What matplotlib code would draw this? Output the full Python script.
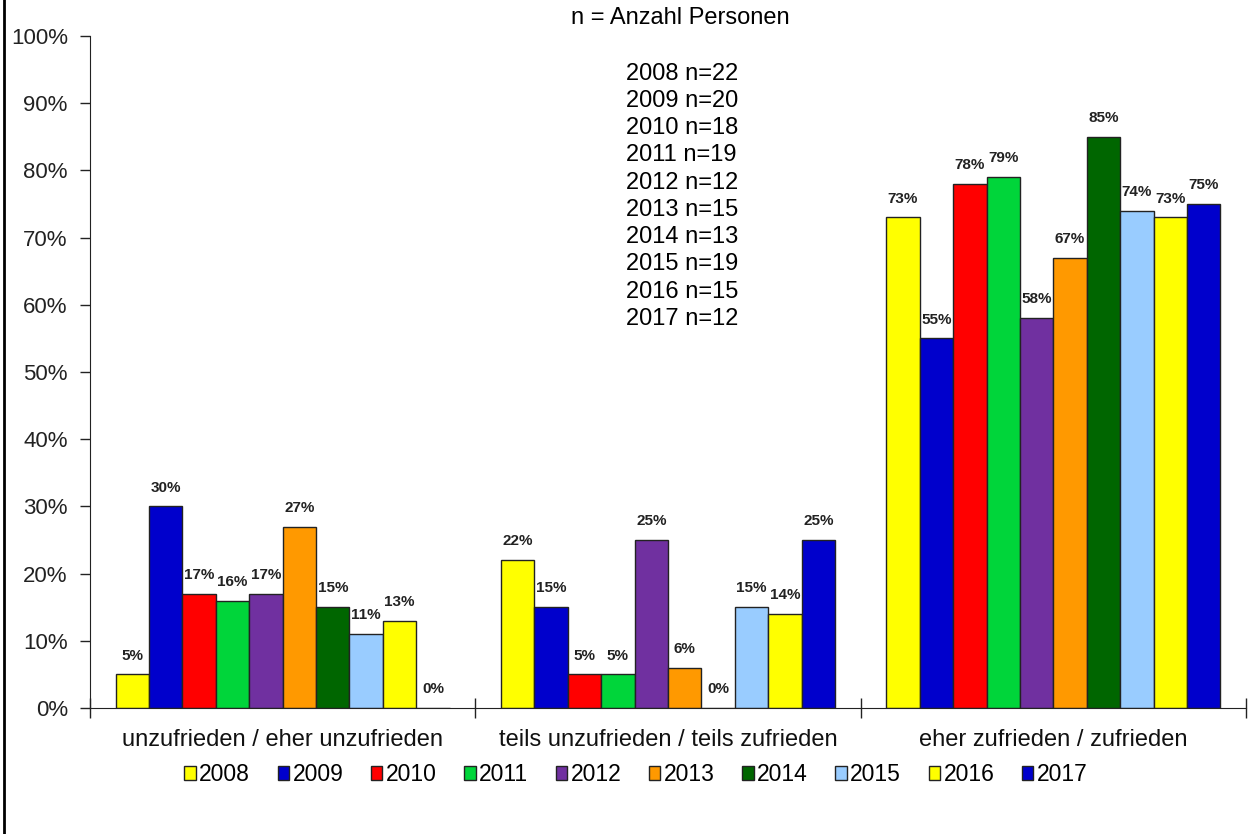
#!/usr/bin/python3

import numpy as np
from matplotlib import pyplot as plt
from matplotlib.lines import Line2D

categories = ["unzufrieden / eher unzufrieden",
              "teils unzufrieden / teils zufrieden",
              "eher zufrieden / zufrieden"]
years = ["2008", "2009", "2010", "2011", "2012", "2013", "2014", "2015", "2016", "2017"]
n_persons = [22, 20, 18, 19, 12, 15, 13, 19, 15, 12]

# percent per year, one value per category
values = {
    "2008": [5, 22, 73],
    "2009": [30, 15, 55],
    "2010": [17, 5, 78],
    "2011": [16, 5, 79],
    "2012": [17, 25, 58],
    "2013": [27, 6, 67],
    "2014": [15, 0, 85],
    "2015": [11, 15, 74],
    "2016": [13, 14, 73],
    "2017": [0, 25, 75],
}

colors = ["#FFFF00", "#0000CC", "#FF0000", "#00D53A", "#7030A0",
          "#FF9900", "#006600", "#99CCFF", "#FFFF00", "#0000CC"]

plt.rcParams['font.family'] = ['Liberation Sans', 'DejaVu Sans']


def main():
    fig = plt.figure(figsize=[12.52, 8.34], dpi=100)
    ax = fig.add_axes([0.0719, 0.151, 0.9233, 0.8058])

    x = np.arange(len(categories))
    width = 0.0867
    nbars = len(years)
    for i, year in enumerate(years):
        pos = x - 0.5 + (1 - nbars * width) / 2 + (i + 0.5) * width
        vals = values[year]
        ax.bar(pos, vals, width=width, color=colors[i], edgecolor="#222222",
               linewidth=1.0, label=year, zorder=2)
        for p, v in zip(pos, vals):
            ax.annotate(f"{v}%", (p, v), xytext=(0, 8.5), textcoords="offset points",
                        ha="center", va="bottom", fontsize=11, fontweight="bold",
                        color="#222222")

    ax.set_ylim(0, 100)
    ax.set_xlim(-0.5, 2.5)
    ax.set_yticks(np.arange(0, 101, 10))
    ax.set_yticklabels([f"{t}%" for t in range(0, 101, 10)], fontsize=16)
    ax.tick_params(axis="y", length=7, width=1, direction="out", pad=9, colors="#222222")

    ax.set_xticks([-0.5, 0.5, 1.5, 2.5])
    ax.set_xticklabels([])
    ax.tick_params(axis="x", which="major", length=14, width=1, direction="inout", colors="#222222")
    ax.set_xticks(x, minor=True)
    ax.set_xticklabels(categories, minor=True, fontsize=17, color="#111111")
    ax.tick_params(axis="x", which="minor", length=0, pad=15)

    for s in ["top", "right"]:
        ax.spines[s].set_visible(False)
    ax.spines["left"].set_color("#222222")
    ax.spines["bottom"].set_color("#222222")

    fig.text(0.543, 0.978, "n = Anzahl Personen", ha="center", va="center", fontsize=17)
    ntext = "\n".join(f"{y} n={n}" for y, n in zip(years, n_persons))
    fig.text(0.5, 0.925, ntext, ha="left", va="top", fontsize=17, linespacing=1.31)

    leg = fig.legend(loc="center", bbox_to_anchor=(0.508, 0.071), ncol=10, frameon=False,
                     fontsize=16.5, handlelength=0.5, handleheight=0.6,
                     handletextpad=0.15, columnspacing=1.2)

    fig.add_artist(Line2D([0.0035, 0.0035], [0, 1], color="black", linewidth=2,
                          transform=fig.transFigure))

    fig.savefig("out.png", dpi=100)


if __name__ == '__main__':
    main()
